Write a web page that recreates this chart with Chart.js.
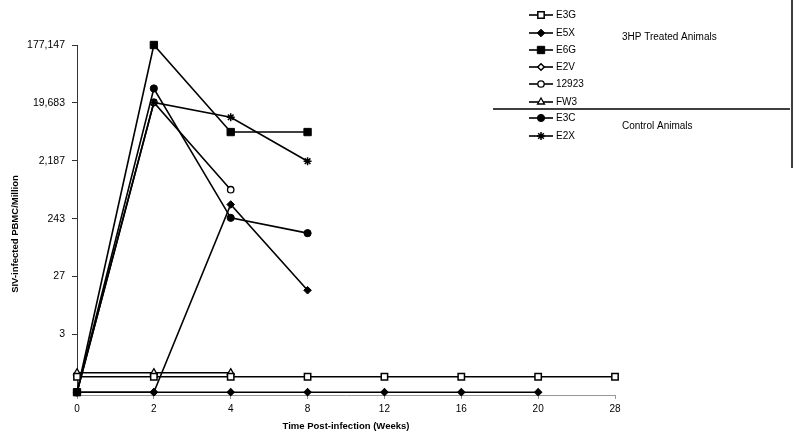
<!DOCTYPE html>
<html>
<head>
<meta charset="utf-8">
<script src="https://cdn.jsdelivr.net/npm/chart.js@4"></script>
<style>
  body { margin: 0; background: #fff; }
  canvas { display: block; }
</style>
</head>
<body>
<canvas id="siv-chart" width="800" height="439"></canvas>
<script>
// weeks post-infection (category axis)
const weeks = ['0', '2', '4', '8', '12', '16', '20', '28'];

// SIV-infected PBMC per million (0 = sits on the axis floor)
const e3g    = [0.6, 0.6, 0.6, 0.6, 0.6, 0.6, 0.6, 0.6];
const e5x    = [0, 0, 415, 16, null, null, null, null];
const e6g    = [0, 177147, 6500, 6500, null, null, null, null];
const e2v    = [0, 0, 0, 0, 0, 0, 0, null];
const s12923 = [0, 20000, 729, null, null, null, null, null];
const fw3    = [0.7, 0.7, 0.7, null, null, null, null, null];
const e3c    = [0, 34000, 250, 140, null, null, null, null];
const e2x    = [0, 20000, 11400, 2150, null, null, null, null];

const yTickValues = [3, 27, 243, 2187, 19683, 177147];
const Y_MIN = 1 / 3;
const Y_MAX = 177147;

const FONT = 'Liberation Sans, Arial, sans-serif';

// zero can't go on a log axis, the original puts it on the floor
function floorZero(arr) {
    return arr.map(v => (v === 0 ? Y_MIN : v));
}

function series(label, data, style, radius, fill, bw, legendFill) {
    return {
        label: label,
        data: floorZero(data),
        borderColor: '#000',
        borderWidth: 1.6,
        pointStyle: style,
        pointRadius: radius,
        pointHoverRadius: radius,
        pointBackgroundColor: fill,
        pointBorderColor: '#000',
        pointBorderWidth: bw,
        legendFill: legendFill || fill,
        tension: 0,
        spanGaps: false,
        clip: false
    };
}

// legend rows on the right (layout only)
const legendRowY = [15, 33, 50, 67, 84, 102, 118, 136];

const sideLegend = {
    id: 'sideLegend',
    afterDraw(chart) {
        const ctx = chart.ctx;
        ctx.save();
        chart.data.datasets.forEach((ds, i) => {
            const y = legendRowY[i];
            ctx.strokeStyle = '#000';
            ctx.lineWidth = 1.6;
            ctx.beginPath();
            ctx.moveTo(529, y);
            ctx.lineTo(553, y);
            ctx.stroke();

            ctx.fillStyle = ds.legendFill;
            ctx.lineWidth = ds.pointBorderWidth;
            Chart.helpers.drawPoint(ctx, {
                pointStyle: ds.pointStyle,
                radius: ds.pointRadius,
                borderWidth: ds.pointBorderWidth,
                rotation: 0
            }, 541, y);

            ctx.fillStyle = '#000';
            ctx.font = '10px ' + FONT;
            ctx.textAlign = 'left';
            ctx.textBaseline = 'middle';
            ctx.fillText(ds.label, 556, y + 0.5);
        });

        ctx.font = '10px ' + FONT;
        ctx.fillText('3HP Treated Animals', 622, 37);
        ctx.fillText('Control Animals', 622, 126);

        // separator and right border
        ctx.strokeStyle = '#000';
        ctx.lineWidth = 1.5;
        ctx.beginPath();
        ctx.moveTo(493, 109);
        ctx.lineTo(790, 109);
        ctx.moveTo(792, 0);
        ctx.lineTo(792, 168);
        ctx.stroke();

        // y axis title, a little below the plot centre as in the original
        ctx.translate(15, 234);
        ctx.rotate(-Math.PI / 2);
        ctx.font = 'bold 9.5px ' + FONT;
        ctx.textAlign = 'center';
        ctx.textBaseline = 'middle';
        ctx.fillText('SIV-infected PBMC/Million', 0, 0);
        ctx.restore();
    }
};

document.addEventListener('DOMContentLoaded', function() {
    const ctx = document.getElementById('siv-chart').getContext('2d');
    const datasets = [
        series('E3G', e3g, 'rect', 4.5, '#fff', 1.5),
        series('E5X', e5x, 'rectRot', 3.8, '#000', 1),
        series('E6G', e6g, 'rect', 5.2, '#000', 1),
        series('E2V', e2v, 'rectRot', 3.3, '#000', 1.5, '#fff'),
        series('12923', s12923, 'circle', 3.2, '#fff', 1.3),
        series('FW3', fw3, 'triangle', 4, '#fff', 1.3),
        series('E3C', e3c, 'circle', 3.6, '#000', 1),
        series('E2X', e2x, 'star', 4, '#000', 1.5)
    ];
    datasets[7].order = -1; // star sits on top of the open circle at week 2

    new Chart(ctx, {
        type: 'line',
        data: {
            labels: weeks,
            datasets: datasets
        },
        options: {
            responsive: false,
            animation: false,
            layout: {
                padding: { left: 0, right: 185, top: 45, bottom: 0 }
            },
            plugins: {
                legend: { display: false },
                tooltip: { enabled: false }
            },
            scales: {
                x: {
                    type: 'category',
                    offset: false,
                    afterFit: function(scale) { scale.height = 44; },
                    grid: {
                        drawOnChartArea: false,
                        drawTicks: true,
                        tickLength: 4,
                        color: '#999'
                    },
                    border: { color: '#999', width: 1 },
                    ticks: {
                        color: '#000',
                        padding: 4,
                        maxRotation: 0,
                        font: { family: FONT, size: 10 }
                    },
                    title: {
                        display: true,
                        text: 'Time Post-infection (Weeks)',
                        color: '#000',
                        padding: { top: 0, bottom: 7 },
                        font: { family: FONT, size: 9.5, weight: 'bold' }
                    }
                },
                y: {
                    type: 'logarithmic',
                    min: Y_MIN,
                    max: Y_MAX,
                    afterFit: function(scale) { scale.width = 77; },
                    afterBuildTicks: function(scale) {
                        scale.ticks = yTickValues.map(v => ({ value: v }));
                    },
                    grid: {
                        drawOnChartArea: false,
                        drawTicks: true,
                        tickLength: 5,
                        color: '#333'
                    },
                    border: { color: '#333', width: 1 },
                    ticks: {
                        color: '#000',
                        padding: 7,
                        autoSkip: false,
                        font: { family: FONT, size: 10.5 },
                        callback: function(value) {
                            return Number(value).toLocaleString('en-US');
                        }
                    },
                    title: { display: false }
                }
            }
        },
        plugins: [sideLegend]
    });
});
</script>
</body>
</html>
